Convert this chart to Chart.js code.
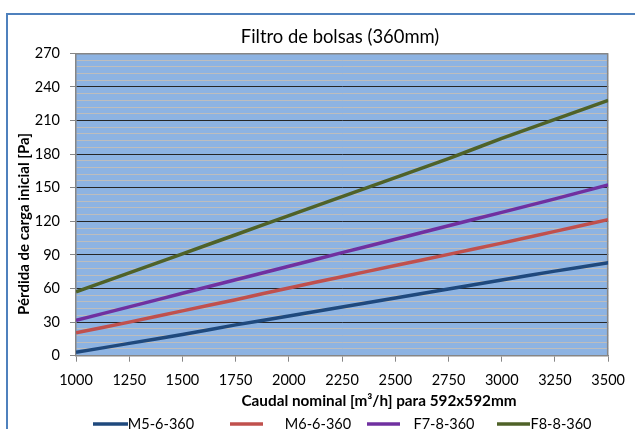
<!DOCTYPE html>
<html>
<head>
<meta charset="utf-8">
<script src="https://cdn.jsdelivr.net/npm/chart.js@4/dist/chart.umd.min.js"></script>
<style>
html,body{margin:0;padding:0;background:#fff;}
canvas{display:block;}
</style>
</head>
<body>
<canvas id="c" width="635" height="429"></canvas>
<script>
// ---- data ----
const flows = [1000, 1250, 1500, 1750, 2000, 2250, 2500, 2750, 3000, 3250, 3500];
const m5 = [3, 11, 19, 27.5, 35.5, 43.5, 51.5, 59.5, 67.5, 75.5, 83];
const m6 = [20.5, 30, 40, 50, 60.5, 70.5, 80.5, 90.5, 100.5, 111, 121.5];
const f7 = [31.5, 43.6, 55.7, 67.8, 79.9, 92, 104, 116, 128, 140, 152.5];
const f8 = [57, 74, 91, 108, 125, 142, 159, 176, 194, 211, 228];
const seriesNames = ['M5-6-360', 'M6-6-360', 'F7-8-360', 'F8-8-360'];
const yTicks = [0, 30, 60, 90, 120, 150, 180, 210, 240, 270];
const xTicks = [1000, 1250, 1500, 1750, 2000, 2250, 2500, 2750, 3000, 3250, 3500];
const chartTitle = 'Filtro de bolsas (360mm)';
const xTitle = 'Caudal nominal [m³/h] para 592x592mm';
const yTitle = 'Pérdida de carga inicial [Pa]';

const colors = ['#1F497D', '#C0504D', '#7030A0', '#4F6228'];
const FONT = 'Lato, "Open Sans", sans-serif';

function pts(arr){ return flows.map((x,i)=>({x:x, y:arr[i]})); }

const frame = {
  id:'frame',
  beforeDraw(chart){
    const ctx = chart.ctx, a = chart.chartArea;
    ctx.save();
    ctx.fillStyle = '#fff';
    ctx.fillRect(0,0,chart.width,chart.height);
    ctx.strokeStyle = '#4F81BD';
    ctx.lineWidth = 2;
    ctx.strokeRect(7, 14, 700, 500);
    ctx.fillStyle = '#8DB3E2';
    ctx.fillRect(a.left, a.top, a.right-a.left, a.bottom-a.top);
    ctx.restore();
  },
  beforeDatasetsDraw(chart){
    const ctx = chart.ctx, a = chart.chartArea;
    ctx.save();
    ctx.strokeStyle = '#868686';
    ctx.lineWidth = 1.5;
    ctx.beginPath();
    ctx.moveTo(a.left, a.top+0.5); ctx.lineTo(a.right, a.top+0.5);
    ctx.moveTo(a.right-0.5, a.top); ctx.lineTo(a.right-0.5, a.bottom);
    ctx.stroke();
    ctx.restore();
  },
  afterDraw(chart){
    const ctx = chart.ctx;
    ctx.save();
    ctx.fillStyle = '#000';
    ctx.textBaseline = 'middle';
    ctx.textAlign = 'center';
    ctx.font = '18.4px ' + FONT;
    ctx.fillText(chartTitle, 340, 37);
    ctx.font = 'bold 15.3px ' + FONT;
    ctx.fillText(xTitle, 379, 401);
    ctx.save();
    ctx.translate(24, 224);
    ctx.rotate(-Math.PI/2);
    ctx.font = 'bold 15px ' + FONT;
    ctx.fillText(yTitle, 0, 0);
    ctx.restore();
    // legend
    const lines = [[93,128],[230,263],[367,400],[497,530]];
    const texts = [161, 318, 444, 561];
    ctx.font = '14.5px ' + FONT;
    chart.data.datasets.forEach((ds,i)=>{
      ctx.strokeStyle = ds.borderColor;
      ctx.lineWidth = 3.5;
      ctx.beginPath();
      ctx.moveTo(lines[i][0], 424); ctx.lineTo(lines[i][1], 424);
      ctx.stroke();
      ctx.fillText(ds.label, texts[i], 424);
    });
    ctx.restore();
  }
};

const datasets = [m5, m6, f7, f8].map((arr,i)=>({
  label: seriesNames[i],
  data: pts(arr),
  borderColor: colors[i],
  backgroundColor: colors[i],
  borderWidth: 3.5,
  pointRadius: 0,
  tension: 0.2,
  fill: false
}));

new Chart(document.getElementById('c'), {
  type: 'line',
  data: { datasets },
  plugins: [frame],
  options: {
    responsive: false,
    devicePixelRatio: 1,
    animation: false,
    layout: { padding: { left: 0, right: 15.7, top: 53.3, bottom: 43.3 } },
    plugins: { legend: { display: false }, title: { display: false }, tooltip: { enabled: false } },
    scales: {
      x: {
        type: 'linear', min: xTicks[0], max: xTicks[xTicks.length-1],
        afterBuildTicks(s){ s.ticks = xTicks.map(v=>({value:v})); },
        afterFit(s){ s.height = 30; },
        grid: { drawOnChartArea: false, drawTicks: true, tickLength: 6, color: '#868686', lineWidth: 1 },
        border: { display: true, color: '#868686', width: 1.5 },
        ticks: { color: '#000', font: { family: FONT, size: 14.5 }, padding: 10, maxRotation: 0, autoSkip: false,
          callback: (v)=> String(v) }
      },
      y: {
        type: 'linear', min: 0, max: 270,
        afterBuildTicks(s){
          const t = [];
          for (let v = 0; v <= 270; v += 6) t.push({value: v});
          s.ticks = t;
        },
        afterFit(s){ s.width = 76; },
        grid: {
          color: (c)=> {
            const v = c.tick ? c.tick.value : 0;
            if (v === 0 || v === 270) return 'rgba(0,0,0,0)';
            return (v % 30 === 0) ? '#262626' : '#BDBDBD';
          },
          tickColor: (c)=> (c.tick && c.tick.value % 30 === 0) ? '#868686' : 'rgba(0,0,0,0)',
          lineWidth: 1, tickLength: 6
        },
        border: { display: true, color: '#868686', width: 1.5 },
        ticks: {
          color: '#000', font: { family: FONT, size: 14.5 }, padding: 10, autoSkip: false,
          callback: (v)=> yTicks.includes(v) ? String(v) : ''
        }
      }
    }
  }
});
</script>
</body>
</html>
